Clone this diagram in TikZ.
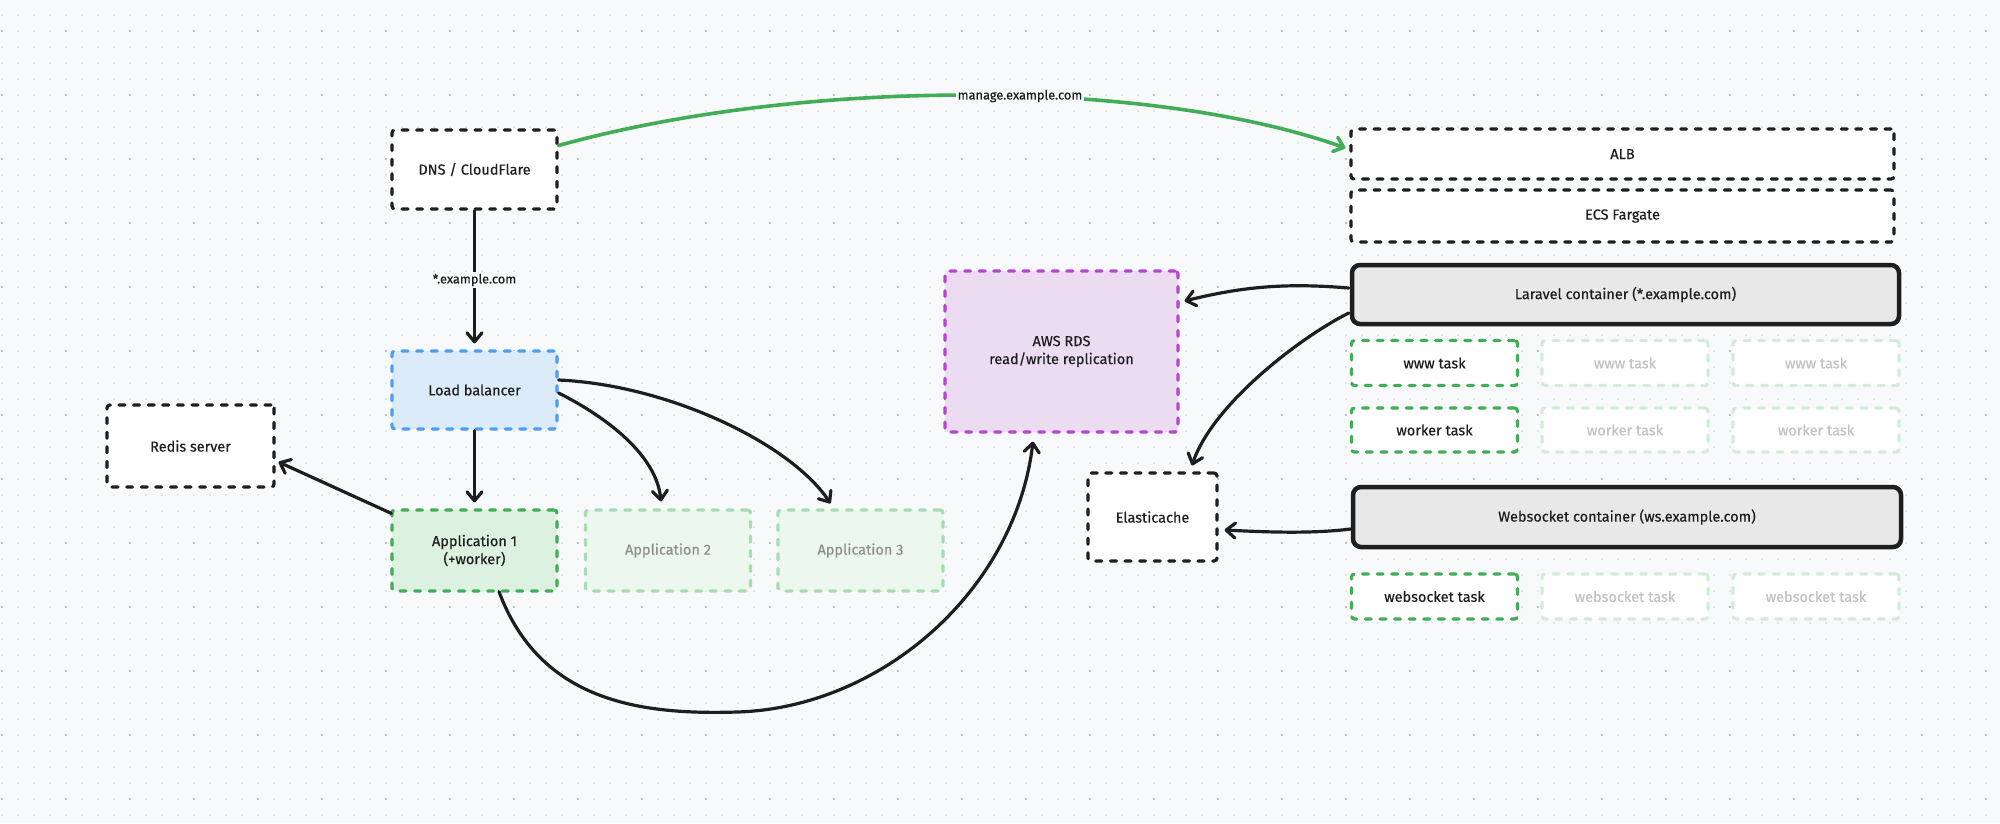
\documentclass[tikz,border=0pt]{standalone}
\usepackage{fontspec}
\setmainfont{Fira Sans}[FakeBold=0.4]
\usetikzlibrary{arrows.meta,calc}
\definecolor{bg}{HTML}{F8F9FB}
\definecolor{ink}{HTML}{1E1E1E}
\definecolor{dotc}{HTML}{CFD0D6}
\definecolor{dotm}{HTML}{9C9DA4}
\definecolor{grn}{HTML}{42AD57}
\definecolor{grnfill}{HTML}{DCF1DF}
\definecolor{fadegrn}{HTML}{A8DBB2}
\definecolor{fadegrnfill}{HTML}{ECF7EE}
\definecolor{taskfade}{HTML}{D3ECD8}
\definecolor{blu}{HTML}{4A9FF2}
\definecolor{blufill}{HTML}{DCEBFA}
\definecolor{pur}{HTML}{B743D2}
\definecolor{purfill}{HTML}{ECDCF2}
\definecolor{contfill}{HTML}{E8E8E8}
\definecolor{fadetext}{HTML}{8F8F8F}
\definecolor{fadetext2}{HTML}{C2C2C2}
\tikzset{
  box/.style={draw=ink, line width=3.2pt, dash pattern=on 6pt off 8.6pt,
    line cap=round, rounded corners=3pt, fill=white, text=ink, inner sep=0pt,
    align=center, font=\fontsize{14.5}{18}\selectfont},
  lbbox/.style={box, draw=blu, fill=blufill},
  appbox/.style={box, draw=grn, fill=grnfill},
  appfade/.style={box, draw=fadegrn, fill=fadegrnfill, text=fadetext},
  rdsbox/.style={box, draw=pur, fill=purfill},
  taskbox/.style={box, draw=grn, fill=white},
  taskfadebox/.style={box, draw=taskfade, fill=white, text=fadetext2},
  contbox/.style={draw=ink, line width=4.5pt, rounded corners=8pt, fill=contfill,
    text=ink, inner sep=0pt, font=\fontsize{14.5}{18}\selectfont},
  conn/.style={draw=ink, line width=3.2pt, line cap=round, line join=round,
    -{Straight Barb[length=9pt,width=15pt,round]}},
  gconn/.style={conn, draw=grn, line width=3.6pt},
  lbl/.style={fill=bg, text=ink, inner sep=2pt, font=\fontsize{12.8}{14}\selectfont},
}
\begin{document}
\begin{tikzpicture}[x=1pt,y=-1pt]
\fill[bg] (0,0) rectangle (2000,823);
\useasboundingbox (0,0) rectangle (2000,823);
% dot grid
\foreach \j in {0,...,51} {\fill[dotc] \foreach \i in {0,...,124} {(2+16*\i,15+16*\j) circle (0.8)};}
\foreach \j in {0,...,12} {\fill[dotm] \foreach \i in {0,...,31} {(2+64*\i,31+64*\j) circle (0.95)};}

% nodes
\node[box, minimum width=165pt, minimum height=79pt] (dns) at (474.5,169.5) {DNS / CloudFlare};
\node[lbbox, minimum width=165pt, minimum height=78pt] (lb) at (474.5,390) {Load balancer};
\node[appbox, minimum width=165pt, minimum height=81pt] (app1) at (474.5,550.5) {Application 1\\(+worker)};
\node[appfade, minimum width=165pt, minimum height=81pt] (app2) at (668,550.5) {Application 2};
\node[appfade, minimum width=165pt, minimum height=81pt] (app3) at (860.5,550.5) {Application 3};
\node[box, minimum width=167pt, minimum height=82pt] (redis) at (190.5,446) {Redis server};
\node[rdsbox, minimum width=233pt, minimum height=161pt] (rds) at (1061.5,351.5) {AWS RDS\\read/write replication};
\node[box, minimum width=129pt, minimum height=88pt] (ela) at (1152.5,517) {Elasticache};
\node[box, minimum width=543pt, minimum height=50pt] (alb) at (1622.5,154) {ALB};
\node[box, minimum width=543pt, minimum height=52pt] (ecs) at (1622.5,216) {ECS Fargate};
\node[contbox, minimum width=547pt, minimum height=59pt] (lar) at (1625.5,294.5) {Laravel container (*.example.com)};
\node[taskbox, minimum width=166pt, minimum height=45pt] (www1) at (1434.5,363) {www task};
\node[taskfadebox, minimum width=166pt, minimum height=45pt] (www2) at (1625,363) {www task};
\node[taskfadebox, minimum width=166pt, minimum height=45pt] (www3) at (1816,363) {www task};
\node[taskbox, minimum width=166pt, minimum height=44pt] (wrk1) at (1434.5,430) {worker task};
\node[taskfadebox, minimum width=166pt, minimum height=44pt] (wrk2) at (1625,430) {worker task};
\node[taskfadebox, minimum width=166pt, minimum height=44pt] (wrk3) at (1816,430) {worker task};
\node[contbox, minimum width=548pt, minimum height=60pt] (ws) at (1627,517) {Websocket container (ws.example.com)};
\node[taskbox, minimum width=166pt, minimum height=45pt] (wst1) at (1434.5,596.5) {websocket task};
\node[taskfadebox, minimum width=166pt, minimum height=45pt] (wst2) at (1625,596.5) {websocket task};
\node[taskfadebox, minimum width=166pt, minimum height=45pt] (wst3) at (1816,596.5) {websocket task};
\coordinate (via) at (737,712);

% connectors
\draw[gconn] ($(dns.east)+(0,-24)$) .. controls +(243,-67.5) and +(-197,-70) .. node[lbl, pos=0.56] {manage.example.com} ($(alb.west)+(-4,-6)$);
\draw[conn, shorten >=6pt] (dns.south) -- node[lbl] {*.example.com} (lb.north);
\draw[conn, shorten >=6pt] (lb.south) -- (app1.north);
\draw[conn] ($(lb.east)+(0,3)$) .. controls +(40,20) and +(-5,-50) .. ($(app2.north)+(-7,-7)$);
\draw[conn] ($(lb.east)+(0,-10)$) .. controls +(110,5) and +(-40,-60) .. ($(app3.north)+(-30,-5)$);
\draw[conn] ($(app1.north west)+(1,5)$) -- ($(redis.east)+(3,16)$);
\draw[conn] ($(app1.south)+(24.5,-1)$) .. controls +(41,110) and +(-97,3) .. (via)
  .. controls +(143,-4) and +(-18,150) .. ($(rds.south)+(-28.5,8)$);
\draw[conn] ($(lar.west)+(-1,-6.5)$) .. controls +(-60,-5) and +(60,-15) .. ($(rds.east)+(5,-50.5)$);
\draw[conn] ($(lar.west)+(-1,18.5)$) .. controls +(-50,25) and +(20,-60) .. ($(ela.north)+(39.5,-6)$);
\draw[conn] ($(ws.west)+(0,12)$) .. controls +(-40,5) and +(40,2) .. ($(ela.east)+(6,13)$);
\end{tikzpicture}
\end{document}
